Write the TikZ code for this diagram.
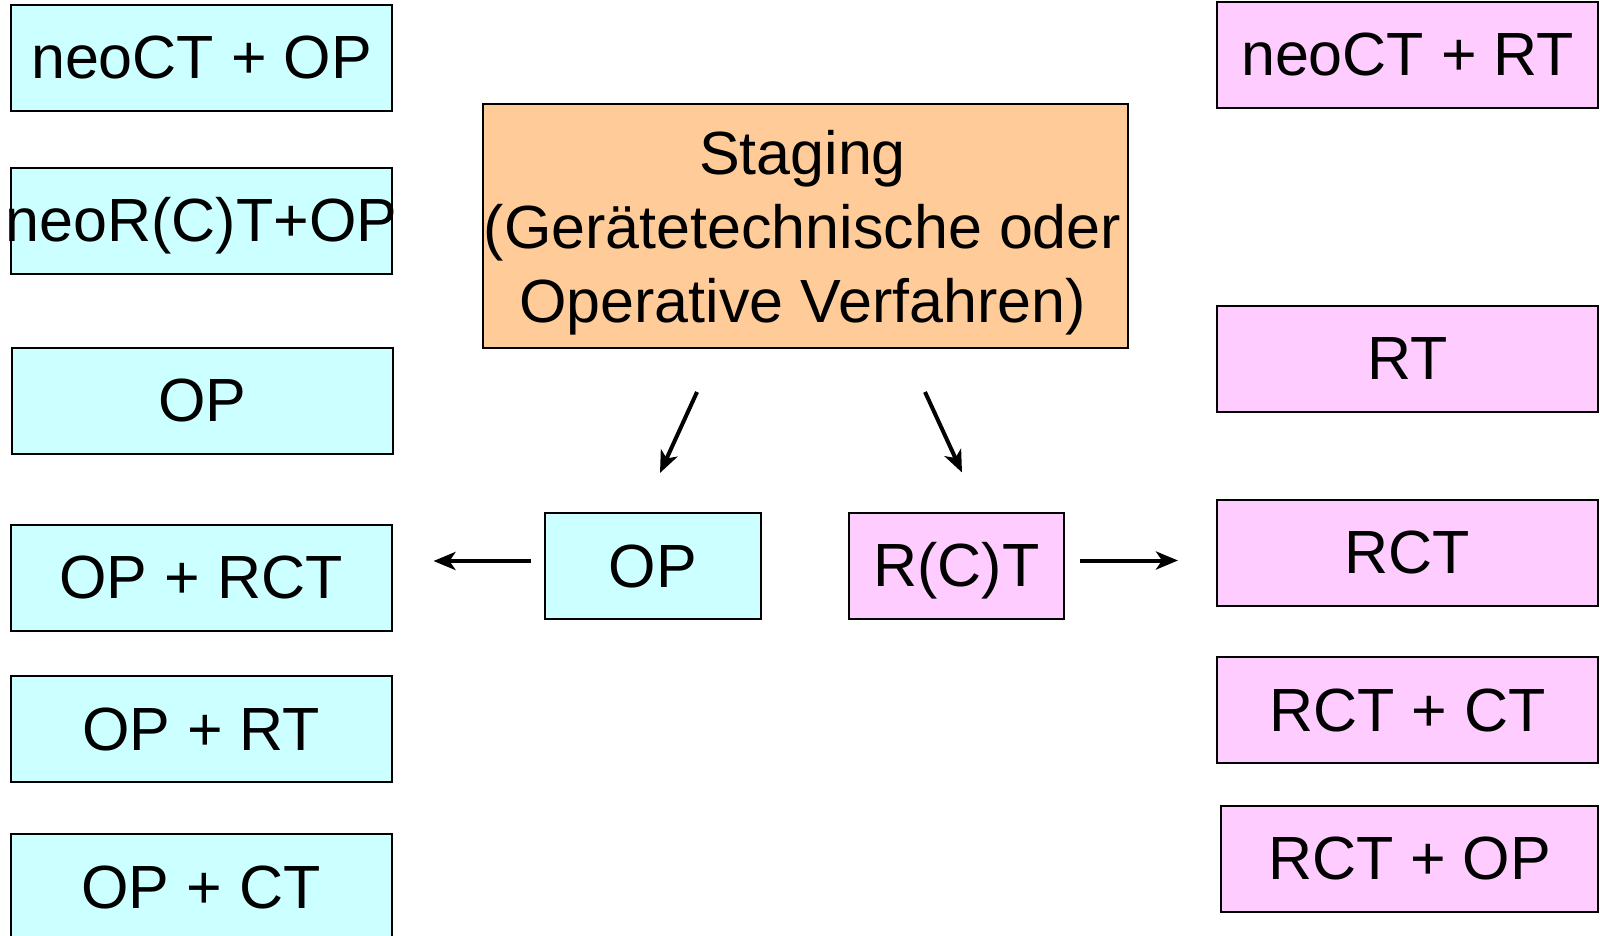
\documentclass[tikz,border=0pt]{standalone}
\usepackage{fontspec}
\setmainfont{Liberation Sans}
\usetikzlibrary{calc,positioning,arrows.meta}

\definecolor{opcol}{HTML}{CCFFFF}
\definecolor{rtcol}{HTML}{FFCCFF}
\definecolor{stcol}{HTML}{FFCC99}

\begin{document}
\begin{tikzpicture}[x=0.5pt,y=-0.5pt,
  box/.style={draw,line width=1pt,inner sep=0pt,minimum width=190.5pt,minimum height=53pt,text height=21pt,text depth=0pt,font=\fontsize{30.5}{37}\selectfont},
  opbox/.style={box,fill=opcol},
  rtbox/.style={box,fill=rtcol},
  pfeil/.style={line width=2pt,arrows={-Stealth[length=11pt,width=9pt,inset=3pt]}}]
  \useasboundingbox (0,0) rectangle (1600,936);

  \node[box,fill=stcol,minimum width=322.5pt,minimum height=122pt] (stage) at (805.5,226) {};
  \node[align=center,inner sep=0pt,font=\fontsize{30.5}{37}\selectfont] (stagetxt) at ([xshift=-1.5pt,yshift=-3.5pt]stage.center) {Staging\\(Gerätetechnische oder\\Operative Verfahren)};

  \node[opbox] (l1) at (201.5,58) {neoCT + OP};
  \node[opbox] (l2) at (201.5,221) {\makebox[0pt]{neoR(C)T+OP}};
  \node[opbox] (l3) at (202.5,400.5) {OP};
  \node[opbox] (l4) at (201,577.5) {OP + RCT};
  \node[opbox] (l5) at (201,729) {OP + RT};
  \node[opbox] (l6) at (201,887) {OP + CT};

  \node[rtbox] (r1) at (1407.5,55) {neoCT + RT};
  \node[rtbox] (r2) at (1407.5,358.5) {RT};
  \node[rtbox] (r3) at (1407.5,552.5) {RCT};
  \node[rtbox] (r4) at (1407.5,710) {RCT + CT};
  \node[rtbox,minimum width=188.5pt] (r5) at (1409.5,858.5) {RCT + OP};

  \node[opbox,minimum width=108pt] (mop) at (653,566) {OP};
  \node[rtbox,minimum width=107.5pt] (mrt) at (956.5,565.5) {R(C)T};

  \draw[pfeil] ([xshift=-54.25pt,yshift=-21.5pt]stage.south) -- ([xshift=3.5pt,yshift=19.5pt]mop.north);
  \draw[pfeil] ([xshift=59.75pt,yshift=-21.5pt]stage.south) -- ([xshift=2.75pt,yshift=19.5pt]mrt.north);
  \draw[pfeil,shorten <=6.5pt,shorten >=20.5pt] ([yshift=2.5pt]mop.west) -- ([yshift=2.5pt]mop.west -| l4.east);
  \draw[pfeil,shorten <=7.5pt,shorten >=19pt] ([yshift=2.5pt]mrt.east) -- ([yshift=2.5pt]mrt.east -| r3.west);
\end{tikzpicture}
\end{document}
